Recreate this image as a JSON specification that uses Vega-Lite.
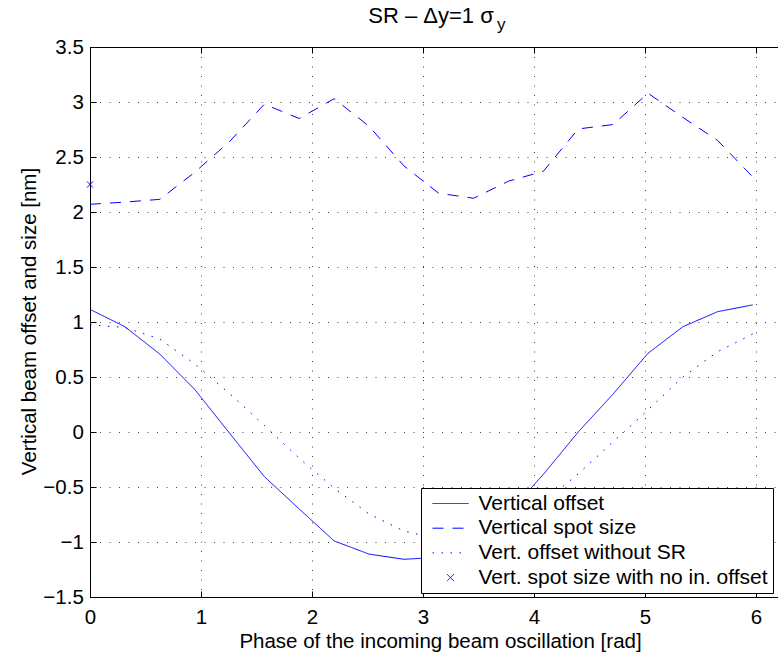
{
  "$schema": "https://vega.github.io/schema/vega-lite/v6.json",
  "width": 688,
  "height": 550,
  "autosize": "none",
  "padding": {"left": 90, "top": 47, "right": 0, "bottom": 58},
  "background": "white",
  "config": {
    "font": "Liberation Sans",
    "view": {"stroke": "black"},
    "axis": {"labelFlush": false, "labelOverlap": false}
  },
  "data": {"values": [
    {"x": 0.0, "y": 1.115, "series": "Vertical offset"},
    {"x": 0.3142, "y": 0.957, "series": "Vertical offset"},
    {"x": 0.6283, "y": 0.709, "series": "Vertical offset"},
    {"x": 0.9425, "y": 0.388, "series": "Vertical offset"},
    {"x": 1.2566, "y": -0.01, "series": "Vertical offset"},
    {"x": 1.5708, "y": -0.406, "series": "Vertical offset"},
    {"x": 1.885, "y": -0.7, "series": "Vertical offset"},
    {"x": 2.1991, "y": -0.99, "series": "Vertical offset"},
    {"x": 2.5133, "y": -1.11, "series": "Vertical offset"},
    {"x": 2.8274, "y": -1.157, "series": "Vertical offset"},
    {"x": 3.1416, "y": -1.14, "series": "Vertical offset"},
    {"x": 3.4558, "y": -1.0, "series": "Vertical offset"},
    {"x": 3.7699, "y": -0.74, "series": "Vertical offset"},
    {"x": 4.0841, "y": -0.385, "series": "Vertical offset"},
    {"x": 4.3982, "y": 0.0, "series": "Vertical offset"},
    {"x": 4.7124, "y": 0.345, "series": "Vertical offset"},
    {"x": 5.0265, "y": 0.715, "series": "Vertical offset"},
    {"x": 5.3407, "y": 0.957, "series": "Vertical offset"},
    {"x": 5.6549, "y": 1.094, "series": "Vertical offset"},
    {"x": 5.969, "y": 1.155, "series": "Vertical offset"},
    {"x": 0.0, "y": 2.07, "series": "Vertical spot size"},
    {"x": 0.3142, "y": 2.09, "series": "Vertical spot size"},
    {"x": 0.6283, "y": 2.115, "series": "Vertical spot size"},
    {"x": 0.9425, "y": 2.36, "series": "Vertical spot size"},
    {"x": 1.2566, "y": 2.64, "series": "Vertical spot size"},
    {"x": 1.5708, "y": 2.98, "series": "Vertical spot size"},
    {"x": 1.885, "y": 2.85, "series": "Vertical spot size"},
    {"x": 2.1991, "y": 3.03, "series": "Vertical spot size"},
    {"x": 2.5133, "y": 2.78, "series": "Vertical spot size"},
    {"x": 2.8274, "y": 2.42, "series": "Vertical spot size"},
    {"x": 3.1416, "y": 2.17, "series": "Vertical spot size"},
    {"x": 3.4558, "y": 2.125, "series": "Vertical spot size"},
    {"x": 3.7699, "y": 2.28, "series": "Vertical spot size"},
    {"x": 4.0841, "y": 2.37, "series": "Vertical spot size"},
    {"x": 4.3982, "y": 2.755, "series": "Vertical spot size"},
    {"x": 4.7124, "y": 2.795, "series": "Vertical spot size"},
    {"x": 5.0265, "y": 3.08, "series": "Vertical spot size"},
    {"x": 5.3407, "y": 2.86, "series": "Vertical spot size"},
    {"x": 5.6549, "y": 2.65, "series": "Vertical spot size"},
    {"x": 5.969, "y": 2.32, "series": "Vertical spot size"},
    {"x": 0.0, "y": 0.975, "series": "Vert. offset without SR"},
    {"x": 0.3142, "y": 0.95, "series": "Vert. offset without SR"},
    {"x": 0.6283, "y": 0.845, "series": "Vert. offset without SR"},
    {"x": 0.9425, "y": 0.62, "series": "Vert. offset without SR"},
    {"x": 1.2566, "y": 0.35, "series": "Vert. offset without SR"},
    {"x": 1.5708, "y": 0.06, "series": "Vert. offset without SR"},
    {"x": 1.885, "y": -0.24, "series": "Vert. offset without SR"},
    {"x": 2.1991, "y": -0.51, "series": "Vert. offset without SR"},
    {"x": 2.5133, "y": -0.745, "series": "Vert. offset without SR"},
    {"x": 2.8274, "y": -0.9, "series": "Vert. offset without SR"},
    {"x": 3.1416, "y": -0.975, "series": "Vert. offset without SR"},
    {"x": 3.4558, "y": -0.95, "series": "Vert. offset without SR"},
    {"x": 3.7699, "y": -0.84, "series": "Vert. offset without SR"},
    {"x": 4.0841, "y": -0.645, "series": "Vert. offset without SR"},
    {"x": 4.3982, "y": -0.38, "series": "Vert. offset without SR"},
    {"x": 4.7124, "y": -0.09, "series": "Vert. offset without SR"},
    {"x": 5.0265, "y": 0.2, "series": "Vert. offset without SR"},
    {"x": 5.3407, "y": 0.5, "series": "Vert. offset without SR"},
    {"x": 5.6549, "y": 0.73, "series": "Vert. offset without SR"},
    {"x": 5.969, "y": 0.89, "series": "Vert. offset without SR"},
    {"x": 0.0, "y": 2.25, "series": "Vert. spot size with no in. offset"}
  ]},
  "layer": [
    {
      "transform": [{"filter": "datum.series !== 'Vert. spot size with no in. offset'"}],
      "mark": {"type": "line", "color": "#0000ff", "strokeWidth": 1, "clip": true},
      "encoding": {
        "x": {"field": "x", "type": "quantitative",
          "scale": {"domain": [0, 6.198], "nice": false, "zero": false},
          "axis": {"orient": "bottom", "values": [0, 1, 2, 3, 4, 5, 6], "format": "d",
            "grid": true, "gridDash": [1, 8.5], "gridColor": "#000000", "gridOpacity": 0.75, "gridWidth": 1,
            "domainColor": "black", "domainWidth": 1, "tickColor": "black", "tickSize": -6, "tickWidth": 1,
            "labelFontSize": 20.5, "labelColor": "black", "labelPadding": 16.8, "labelFont": "Liberation Sans",
            "title": "Phase of the incoming beam oscillation [rad]", "titleFontSize": 20.5, "titleFontWeight": "normal",
            "titleColor": "black", "titleFont": "Liberation Sans", "titleX": 350, "titleY": 50, "titleBaseline": "alphabetic", "titleAlign": "center"}},
        "y": {"field": "y", "type": "quantitative",
          "scale": {"domain": [-1.5, 3.5], "nice": false, "zero": false},
          "axis": {"orient": "left", "values": [-1.5, -1, -0.5, 0, 0.5, 1, 1.5, 2, 2.5, 3, 3.5], "format": "~g",
            "grid": true, "gridDash": [1, 8.5], "gridColor": "#000000", "gridOpacity": 0.75, "gridWidth": 1,
            "domainColor": "black", "domainWidth": 1, "tickColor": "black", "tickSize": -6, "tickWidth": 1,
            "labelFontSize": 20.5, "labelColor": "black", "labelPadding": 12.7, "labelFont": "Liberation Sans",
            "title": "Vertical beam offset and size [nm]", "titleFontSize": 20.5, "titleFontWeight": "normal",
            "titleColor": "black", "titleFont": "Liberation Sans", "titleX": -55, "titleY": 274, "titleBaseline": "alphabetic", "titleAlign": "center", "titleAngle": -90}},
        "strokeDash": {"field": "series", "type": "nominal",
          "scale": {"domain": ["Vertical offset", "Vertical spot size", "Vert. offset without SR", "Vert. spot size with no in. offset"],
                    "range": [[1, 0], [11, 9], [1.5, 7.5], [1, 0]]},
          "legend": {"title": null, "orient": "none", "legendX": 331, "legendY": 441, "padding": 5, "rowPadding": 2.7,
            "strokeColor": "black", "fillColor": "white", "labelFontSize": 21, "labelColor": "black", "labelFont": "Liberation Sans",
            "symbolSize": 144, "symbolStrokeColor": "#0000ff", "symbolStrokeWidth": 1, "symbolFillColor": "transparent",
            "symbolOffset": 14, "labelOffset": 17.5, "labelLimit": 400}}
      }
    },
    {
      "transform": [{"filter": "datum.series === 'Vert. spot size with no in. offset'"}],
      "mark": {"type": "point", "color": "#0000ff", "strokeWidth": 1, "size": 100, "filled": false, "opacity": 1},
      "encoding": {
        "x": {"field": "x", "type": "quantitative",
          "axis": {"orient": "top", "values": [0, 1, 2, 3, 4, 5, 6], "labels": false, "grid": false, "title": null,
            "domainColor": "black", "domainWidth": 1, "tickColor": "black", "tickSize": -6, "tickWidth": 1}},
        "y": {"field": "y", "type": "quantitative", "axis": null},
        "shape": {"field": "series", "type": "nominal",
          "scale": {"domain": ["Vertical offset", "Vertical spot size", "Vert. offset without SR", "Vert. spot size with no in. offset"],
                    "range": ["M-3,0H3", "M-3,0H3", "M-3,0H3", "M-0.6,-0.6L0.6,0.6M-0.6,0.6L0.6,-0.6"]},
          "legend": {"title": null, "orient": "none", "legendX": 331, "legendY": 441, "padding": 5, "rowPadding": 2.7,
            "strokeColor": "black", "fillColor": "white", "labelFontSize": 21, "labelColor": "black", "labelFont": "Liberation Sans",
            "symbolSize": 144, "symbolStrokeColor": "#0000ff", "symbolStrokeWidth": 1, "symbolFillColor": "transparent",
            "symbolOffset": 14, "labelOffset": 17.5, "labelLimit": 400}}
      }
    },
    {
      "data": {"values": [{"t": "SR – Δy=1 σ"}]},
      "mark": {"type": "text", "fontSize": 22, "font": "Liberation Sans", "color": "black", "align": "center", "baseline": "alphabetic", "dy": -23.7},
      "encoding": {
        "text": {"field": "t"},
        "x": {"datum": 3.072, "type": "quantitative", "axis": null},
        "y": {"datum": 3.5, "type": "quantitative", "axis": null}
      }
    },
    {
      "data": {"values": [{"t": "y"}]},
      "mark": {"type": "text", "fontSize": 17, "font": "Liberation Sans", "color": "black", "align": "center", "baseline": "alphabetic", "dy": -17},
      "encoding": {
        "text": {"field": "t"},
        "x": {"datum": 3.705, "type": "quantitative", "axis": null},
        "y": {"datum": 3.5, "type": "quantitative", "axis": null}
      }
    }
  ],
  "resolve": {"axis": {"x": "independent", "y": "independent"}}
}
